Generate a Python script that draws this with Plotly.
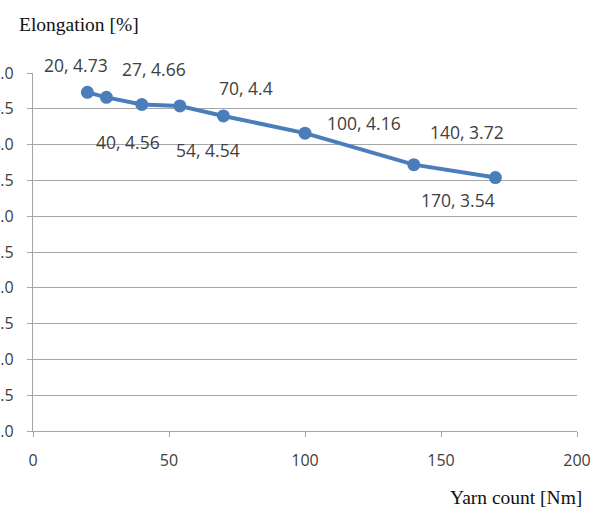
import plotly.graph_objects as go

yarn_count = [20, 27, 40, 54, 70, 100, 140, 170]
elongation = [4.73, 4.66, 4.56, 4.54, 4.4, 4.16, 3.72, 3.54]
label_text = ["20, 4.73", "27, 4.66", "40, 4.56", "54, 4.54", "70, 4.4", "100, 4.16", "140, 3.72", "170, 3.54"]
label_dx = [-11, 48, -14, 28, 23, 59, 53, -37]
label_dy = [27, 28, -37, -44, 28, 10, 33, -22]

x_ticks = [0, 50, 100, 150, 200]
y_ticks = [0.0, 0.5, 1.0, 1.5, 2.0, 2.5, 3.0, 3.5, 4.0, 4.5, 5.0]

W, H = 603, 508
LINE = "#4a7ebb"
GRID = "#a6a6a6"
TXT = "#404040"
SANS = "Open Sans"
SERIF = "Liberation Serif"

fig = go.Figure()
fig.add_trace(go.Scatter(
    x=yarn_count, y=elongation, mode="lines+markers",
    line=dict(color=LINE, width=4),
    marker=dict(color=LINE, size=13),
    showlegend=False, hoverinfo="skip",
))

for x, y, t, dx, dy in zip(yarn_count, elongation, label_text, label_dx, label_dy):
    fig.add_annotation(x=x, y=y, text=t, showarrow=False, xshift=dx, yshift=dy,
                       font=dict(family=SANS, size=17.5, color=TXT))

fig.add_annotation(xref="paper", yref="paper", x=17 / W, y=1 - 24 / H,
                   text="Elongation [%]", showarrow=False, xanchor="left", yanchor="middle",
                   font=dict(family=SERIF, size=19.5, color="#111111"))
fig.add_annotation(xref="paper", yref="paper", x=584 / W, y=1 - 497 / H,
                   text="Yarn count [Nm]", showarrow=False, xanchor="right", yanchor="middle",
                   font=dict(family=SERIF, size=19.5, color="#111111"))

fig.update_layout(
    width=W, height=H,
    margin=dict(l=0, r=0, t=0, b=0, autoexpand=False),
    paper_bgcolor="white", plot_bgcolor="white",
    xaxis=dict(domain=[33 / W, 577 / W], range=[0, 200], tickvals=x_ticks, automargin=False,
               showgrid=False, zeroline=False, showline=True, linecolor=GRID, linewidth=1.3,
               ticks="outside", ticklen=5, tickcolor=GRID, ticklabelstandoff=10,
               tickfont=dict(family=SANS, size=16, color=TXT)),
    yaxis=dict(domain=[(H - 431) / H, (H - 73) / H], range=[0, 5], tickvals=y_ticks,
               tickformat=".1f", automargin=False,
               showgrid=True, gridcolor=GRID, gridwidth=1.3, zeroline=False,
               showline=True, linecolor=GRID, linewidth=1.3,
               ticks="outside", ticklen=5, tickcolor=GRID, ticklabelstandoff=10,
               tickfont=dict(family=SANS, size=16, color=TXT)),
)

fig.write_html("out.html")
